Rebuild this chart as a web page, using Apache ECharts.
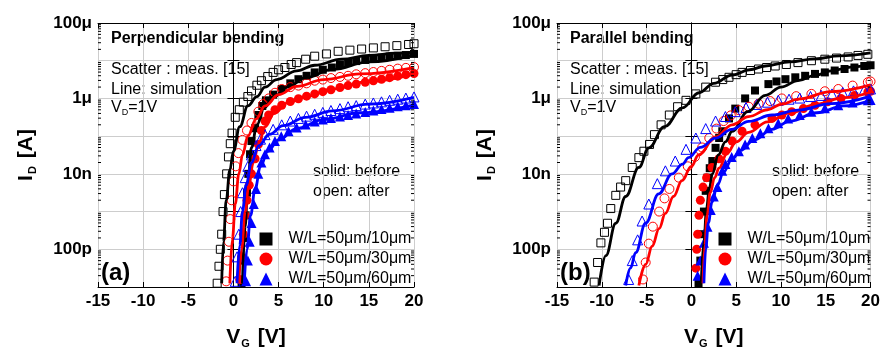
<!DOCTYPE html>
<html><head><meta charset="utf-8">
<script src="https://cdn.jsdelivr.net/npm/echarts@6/dist/echarts.min.js"></script>
<style>html,body{margin:0;padding:0;background:#fff}#c{width:883px;height:354px}</style>
</head><body><div id="c"></div><script>
// ---------- DATA: [V_G (V), log10(I_D / A)] ----------
// Panel (a) perpendicular bending
const perpBefore10 = [[0.9,-10.9],[1.05,-10.3],[1.2,-9.7],[1.35,-9.1],[1.5,-8.5],[1.65,-8.0],[1.84,-7.48],[2.0,-7.13],[2.4,-6.79],[2.76,-6.44],[3.2,-6.2],[3.6,-6.05],[4.4,-5.9],[5.35,-5.75],[6.3,-5.6],[7.2,-5.49],[8.1,-5.4],[9.0,-5.31],[9.9,-5.24],[10.9,-5.18],[11.8,-5.1],[12.7,-5.05],[13.6,-5.01],[14.6,-4.98],[15.5,-4.95],[16.4,-4.92],[17.3,-4.89],[18.2,-4.87],[19.1,-4.85],[20,-4.82]];
const perpAfter10 = [[-1.8,-10.9],[-1.6,-10.45],[-1.45,-10.0],[-1.3,-9.6],[-1.15,-9.0],[-1.0,-8.55],[-0.75,-8.0],[-0.55,-7.55],[-0.35,-7.2],[-0.15,-6.92],[0.2,-6.5],[0.65,-6.3],[1.1,-6.1],[1.6,-5.95],[2.0,-5.8],[2.6,-5.65],[3.1,-5.53],[3.8,-5.42],[4.4,-5.31],[5.0,-5.24],[5.7,-5.18],[6.4,-5.1],[7.0,-5.05],[8.0,-4.96],[9.0,-4.88],[10.3,-4.82],[11.6,-4.75],[12.9,-4.72],[14.2,-4.69],[15.5,-4.66],[16.8,-4.63],[18.1,-4.6],[19.4,-4.57],[20,-4.55]];
const perpBefore30 = [[0.7,-10.8],[0.9,-10.2],[1.1,-9.6],[1.3,-9.1],[1.5,-8.7],[1.75,-8.3],[2.0,-8.0],[2.4,-7.6],[2.76,-7.22],[3.1,-6.85],[3.5,-6.6],[3.9,-6.44],[4.6,-6.3],[5.35,-6.18],[6.3,-6.08],[7.2,-6.01],[8.1,-5.94],[9.0,-5.88],[9.9,-5.82],[10.8,-5.77],[11.8,-5.71],[12.7,-5.66],[13.6,-5.62],[14.6,-5.57],[15.5,-5.53],[16.4,-5.49],[17.3,-5.45],[18.2,-5.41],[19.1,-5.37],[20,-5.34]];
const perpAfter30 = [[-0.8,-10.85],[-0.65,-10.3],[-0.5,-9.8],[-0.35,-9.2],[-0.2,-8.7],[0.0,-8.2],[0.25,-7.8],[0.55,-7.45],[1.0,-7.1],[1.5,-6.85],[2.0,-6.65],[2.76,-6.35],[3.3,-6.15],[3.9,-6.0],[4.6,-5.85],[5.35,-5.75],[6.3,-5.7],[7.2,-5.66],[8.1,-5.6],[9.0,-5.53],[9.9,-5.5],[10.8,-5.46],[11.8,-5.43],[12.7,-5.4],[13.6,-5.36],[14.6,-5.33],[15.5,-5.3],[16.4,-5.27],[17.3,-5.24],[18.2,-5.21],[19.1,-5.19],[20,-5.17]];
const perpBefore60 = [[1.4,-10.85],[1.6,-10.3],[1.8,-9.8],[2.0,-9.3],[2.25,-8.8],[2.5,-8.4],[2.76,-8.0],[3.1,-7.7],[3.5,-7.48],[4.0,-7.3],[4.6,-7.13],[5.3,-7.0],[6.1,-6.87],[7.0,-6.77],[8.0,-6.69],[9.0,-6.61],[9.9,-6.56],[10.8,-6.52],[11.8,-6.48],[12.7,-6.44],[13.6,-6.4],[14.6,-6.36],[15.5,-6.32],[16.4,-6.28],[17.3,-6.25],[18.2,-6.21],[19.1,-6.18],[20,-6.15]];
const perpAfter60 = [[0.2,-10.85],[0.4,-10.2],[0.6,-9.6],[0.8,-9.0],[1.0,-8.5],[1.3,-8.1],[1.6,-7.8],[2.0,-7.5],[2.5,-7.25],[3.0,-7.08],[3.5,-6.96],[4.4,-6.82],[5.35,-6.7],[6.3,-6.6],[7.2,-6.53],[8.1,-6.47],[9.0,-6.42],[9.9,-6.37],[10.8,-6.32],[11.8,-6.27],[12.7,-6.22],[13.6,-6.19],[14.6,-6.15],[15.5,-6.12],[16.4,-6.09],[17.3,-6.05],[18.2,-6.02],[19.1,-5.99],[20,-5.96]];
const perpSimBefore10 = [[1.0,-10.9],[1.3,-9.4],[1.6,-8.2],[2.0,-7.3],[2.6,-6.7],[3.4,-6.25],[4.5,-5.95],[6,-5.7],[8,-5.45],[11,-5.23],[15,-5.03],[20,-4.85]];
const perpSimAfter10 = [[-1.3,-10.9],[-1.1,-9.8],[-0.8,-8.7],[-0.4,-7.9],[0,-7.4],[0.7,-6.75],[1.6,-6.2],[2.6,-5.95],[3.5,-5.7],[4.8,-5.5],[7,-5.27],[9,-5.12],[12,-4.96],[15,-4.86],[18,-4.8],[20,-4.77]];
const perpSimBefore30 = [[0.6,-10.9],[0.9,-10.0],[1.3,-9.0],[1.7,-8.3],[2.2,-7.7],[2.8,-7.2],[3.5,-6.75],[4.5,-6.4],[6,-6.12],[8,-5.95],[11,-5.75],[15,-5.55],[20,-5.35]];
const perpSimAfter30 = [[-0.4,-10.9],[-0.1,-9.7],[0.2,-8.8],[0.6,-8.0],[1.0,-7.5],[1.6,-7.0],[2.5,-6.55],[3.5,-6.2],[5,-5.9],[7,-5.68],[10,-5.5],[14,-5.35],[20,-5.18]];
const perpSimBefore60 = [[1.2,-10.9],[1.5,-10.0],[1.9,-9.1],[2.4,-8.4],[3.0,-7.8],[3.8,-7.4],[5,-7.1],[7,-6.8],[10,-6.56],[14,-6.38],[20,-6.17]];
const perpSimAfter60 = [[0.4,-10.9],[0.7,-9.9],[1.0,-9.0],[1.4,-8.3],[2.0,-7.7],[2.8,-7.25],[4,-6.95],[5.5,-6.72],[8,-6.5],[11,-6.33],[15,-6.15],[20,-5.97]];

// Panel (b) parallel bending
const parBefore10 = [[0.8,-10.9],[1.0,-10.3],[1.2,-9.6],[1.4,-9.0],[1.6,-8.45],[1.8,-8.1],[2.05,-7.85],[2.34,-7.66],[2.7,-7.31],[3.1,-7.05],[3.45,-6.87],[4.2,-6.53],[4.9,-6.27],[6.0,-6.0],[7.1,-5.79],[8.6,-5.62],[9.5,-5.55],[10.5,-5.49],[11.6,-5.44],[12.7,-5.4],[13.8,-5.35],[14.9,-5.31],[16.0,-5.26],[17.1,-5.22],[18.2,-5.18],[19.3,-5.14],[20,-5.12]];
const parAfter10 = [[-10.85,-10.87],[-10.47,-10.35],[-10.1,-9.83],[-9.7,-9.55],[-9.36,-9.31],[-9.0,-8.92],[-8.44,-8.57],[-7.9,-8.35],[-7.33,-8.18],[-6.6,-7.83],[-5.86,-7.57],[-5.3,-7.4],[-4.67,-7.22],[-4.12,-6.96],[-3.38,-6.7],[-2.46,-6.44],[-1.54,-6.22],[-0.6,-6.05],[0.5,-5.88],[1.6,-5.7],[2.7,-5.57],[3.5,-5.5],[4.2,-5.44],[5.0,-5.37],[5.66,-5.31],[6.6,-5.26],[7.5,-5.22],[8.4,-5.18],[9.36,-5.14],[10.6,-5.1],[11.9,-5.05],[13.4,-5.0],[14.9,-4.96],[16.2,-4.93],[17.5,-4.9],[18.6,-4.86],[19.7,-4.83]];
const parBefore30 = [[0.5,-10.5],[0.6,-10.0],[0.7,-9.6],[0.85,-9.1],[1.0,-8.7],[1.3,-8.35],[1.7,-8.1],[2.3,-7.83],[3.08,-7.6],[3.8,-7.4],[4.55,-7.13],[5.66,-6.87],[7.1,-6.7],[9.0,-6.53],[10.1,-6.44],[11.2,-6.35],[12.5,-6.27],[13.8,-6.18],[15.2,-6.09],[16.7,-6.0],[18.2,-5.92],[19.7,-5.83],[20,-5.81]];
const parAfter30 = [[-5.4,-10.8],[-5.1,-10.35],[-4.75,-9.85],[-4.3,-9.4],[-3.6,-9.0],[-3.0,-8.65],[-2.45,-8.4],[-1.4,-8.1],[-0.4,-7.8],[0.4,-7.55],[1.2,-7.3],[2.0,-7.05],[2.8,-6.8],[3.6,-6.6],[4.4,-6.45],[5.3,-6.31],[6.4,-6.22],[7.5,-6.14],[8.8,-6.07],[10.1,-6.0],[11.7,-5.94],[13.4,-5.88],[14.9,-5.81],[16.4,-5.75],[18.0,-5.66],[19.7,-5.57],[20,-5.55]];
const parBefore60 = [[0.7,-10.7],[1.0,-10.3],[1.4,-9.83],[1.8,-9.4],[2.16,-8.96],[2.5,-8.6],[2.9,-8.35],[3.45,-7.92],[3.8,-7.74],[4.5,-7.55],[5.3,-7.4],[6.0,-7.22],[6.8,-7.05],[7.7,-6.92],[8.6,-6.79],[9.7,-6.66],[10.8,-6.53],[12.1,-6.44],[13.4,-6.35],[14.9,-6.26],[16.4,-6.18],[18.0,-6.11],[19.7,-6.05],[20,-6.04]];
const parAfter60 = [[-7.0,-10.8],[-6.6,-10.3],[-6.0,-9.75],[-5.5,-9.25],[-4.75,-8.8],[-3.8,-8.26],[-2.9,-7.92],[-1.8,-7.66],[-0.6,-7.35],[0.5,-7.05],[1.6,-6.8],[2.7,-6.6],[3.8,-6.48],[4.9,-6.35],[6.1,-6.24],[7.3,-6.16],[8.5,-6.1],[9.7,-6.05],[10.9,-6.02],[12.1,-5.99],[13.3,-5.95],[14.5,-5.92],[15.7,-5.88],[16.9,-5.84],[18.1,-5.8],[19.3,-5.77],[20,-5.75]];
const parSimBefore10 = [[1.1,-10.9],[1.4,-9.8],[1.7,-8.9],[2.0,-8.4],[2.34,-8.0],[3.0,-7.5],[3.8,-7.15],[4.55,-6.87],[6.3,-6.35],[8.25,-5.92],[10,-5.7],[11.9,-5.53],[13.8,-5.39],[15.6,-5.27],[17.8,-5.17],[20,-5.09]];
const parSimAfter10 = [[-10.3,-10.96],[-9.55,-10.17],[-8.44,-9.31],[-7.33,-8.6],[-5.86,-7.83],[-4.75,-7.31],[-3,-6.75],[-1,-6.25],[0.86,-5.85],[2.5,-5.6],[4.55,-5.38],[6.5,-5.24],[8.25,-5.14],[11,-5.03],[13.8,-4.95],[16.5,-4.87],[20,-4.79]];
const parSimBefore30 = [[1.3,-10.9],[1.5,-9.9],[1.75,-9.1],[2.1,-8.5],[2.6,-8.1],[3.08,-7.85],[4.0,-7.45],[5.0,-7.15],[6.4,-6.9],[8.5,-6.62],[11,-6.38],[14,-6.15],[17,-5.98],[20,-5.83]];
const parSimAfter30 = [[-5.86,-10.96],[-5.1,-10.4],[-4.38,-9.92],[-3.6,-9.45],[-2.9,-9.05],[-2,-8.6],[-1.05,-8.18],[0.0,-7.8],[0.79,-7.5],[2.7,-7.02],[4.55,-6.7],[6.4,-6.48],[8.5,-6.3],[10.1,-6.15],[11.9,-6.02],[15.6,-5.82],[20,-5.64]];
const parSimBefore60 = [[1.4,-10.9],[1.6,-10.0],[1.9,-9.3],[2.3,-8.75],[2.9,-8.3],[3.6,-7.95],[4.5,-7.62],[5.5,-7.38],[7,-7.1],[9,-6.82],[11,-6.6],[14,-6.38],[17,-6.2],[20,-6.05]];
const parSimAfter60 = [[-7.33,-10.96],[-6.8,-10.5],[-6.22,-10.09],[-5.12,-9.31],[-3.64,-8.53],[-2.16,-8.0],[-0.98,-7.74],[-0.32,-7.57],[1.0,-7.3],[2.7,-7.05],[4.5,-6.82],[6.4,-6.61],[9,-6.44],[11.9,-6.31],[15.6,-6.14],[20,-5.94]];

// ---------- AXES / LABELS ----------
const xMin = -15, xMax = 20, xStep = 5;
const yMin = -11, yMax = -4;
const yTickValues = [-10, -8, -6, -4];
const yTickLabels = ['100p', '10n', '1μ', '100μ'];
const minorTickFactors = [2, 3, 4, 5, 6, 7, 8, 9];
const legendNames = ['W/L=50μm/10μm', 'W/L=50μm/30μm', 'W/L=50μm/60μm'];
const colors = ['#000000', '#ff0000', '#0000ff'];
const symbols = ['rect', 'circle', 'triangle'];
const symbolSizes = [8, 9, 10];
const panelTitles = ['Perpendicular bending', 'Parallel bending'];
const panelTags = ['(a)', '(b)'];

const FF = 'Liberation Sans, Arial, sans-serif';
const panels = [
  {before: [perpBefore10, perpBefore30, perpBefore60], after: [perpAfter10, perpAfter30, perpAfter60],
   simB: [perpSimBefore10, perpSimBefore30, perpSimBefore60], simA: [perpSimAfter10, perpSimAfter30, perpSimAfter60]},
  {before: [parBefore10, parBefore30, parBefore60], after: [parAfter10, parAfter30, parAfter60],
   simB: [parSimBefore10, parSimBefore30, parSimBefore60], simA: [parSimAfter10, parSimAfter30, parSimAfter60]}
];
const gridLefts = [98, 557];
const grids = gridLefts.map(l => ({left: l, top: 23, width: 316, height: 269, show: false}));

const minorVals = [];
for (let n = yMin; n < yMax; n++) minorTickFactors.forEach(k => minorVals.push([xMin, n + Math.log10(k)]));

const xAxes = [], yAxes = [], series = [], graphics = [], legends = [];
const axisLineStyle = {show: true, lineStyle: {color: '#000', width: 1}};
const nameRich = {
  m: {fontSize: 21, fontWeight: 'bold', fontFamily: FF, color: '#000', lineHeight: 24},
  s: {fontSize: 11, fontWeight: 'bold', fontFamily: FF, color: '#000', verticalAlign: 'bottom', lineHeight: 10, padding: [0, 2, 0, 1]}
};
gridLefts.forEach((gl, g) => {
  xAxes.push({
    gridIndex: g, type: 'value', min: xMin, max: xMax, interval: xStep, position: 'bottom',
    axisLine: axisLineStyle, axisTick: {show: true, inside: true, length: 5, lineStyle: {color: '#000'}},
    axisLabel: {color: '#000', fontSize: 17, fontWeight: 'bold', fontFamily: FF, margin: 6},
    splitLine: {show: true, lineStyle: {color: '#cdcdcd', width: 1}},
    name: '{m|V}{s|G}{m| [V]}', nameLocation: 'middle', nameGap: 38,
    nameTextStyle: {rich: nameRich}
  });
  xAxes.push({
    gridIndex: g, type: 'value', min: xMin, max: xMax, interval: xStep, position: 'top',
    axisLine: axisLineStyle, axisTick: {show: true, inside: true, length: 5, lineStyle: {color: '#000'}},
    axisLabel: {show: false}, splitLine: {show: false}
  });
  yAxes.push({
    gridIndex: g, type: 'value', min: yMin, max: yMax, interval: 1, position: 'left',
    axisLine: axisLineStyle, axisTick: {show: true, inside: true, length: 6, lineStyle: {color: '#000'}},
    axisLabel: {color: '#000', fontSize: 17, fontWeight: 'bold', fontFamily: FF, margin: 6,
      formatter: v => { const i = yTickValues.indexOf(Math.round(v)); return i >= 0 ? yTickLabels[i] : ''; }},
    splitLine: {show: true, lineStyle: {color: '#cdcdcd', width: 1}},
    name: '{m|I}{s|D}{m| [A]}', nameLocation: 'middle', nameRotate: 90, nameGap: 60,
    nameTextStyle: {rich: nameRich}
  });
  yAxes.push({
    gridIndex: g, type: 'value', min: yMin, max: yMax, interval: 1, position: 'right',
    axisLine: axisLineStyle, axisTick: {show: true, inside: true, length: 6, lineStyle: {color: '#000'}},
    axisLabel: {show: false}, splitLine: {show: false}
  });

  const xi = g * 2, yi = g * 2;
  const P = panels[g];
  // minor log ticks (left and right)
  series.push({
    type: 'custom', xAxisIndex: xi, yAxisIndex: yi, data: minorVals, silent: true, z: 5,
    renderItem: (params, api) => {
      const cs = params.coordSys;
      const y = api.coord([api.value(0), api.value(1)])[1];
      return {type: 'group', children: [
        {type: 'line', shape: {x1: cs.x, y1: y, x2: cs.x + 3, y2: y}, style: {stroke: '#000', lineWidth: 1}},
        {type: 'line', shape: {x1: cs.x + cs.width - 3, y1: y, x2: cs.x + cs.width, y2: y}, style: {stroke: '#000', lineWidth: 1}}
      ]};
    }
  });
  for (let k = 0; k < 3; k++) {
    series.push({
      type: 'scatter', name: legendNames[k], xAxisIndex: xi, yAxisIndex: yi, data: P.before[k],
      symbol: symbols[k], symbolSize: symbolSizes[k], itemStyle: {color: colors[k], opacity: 1}, z: 2
    });
    series.push({
      type: 'scatter', name: 'after' + k, xAxisIndex: xi, yAxisIndex: yi, data: P.after[k],
      symbol: symbols[k], symbolSize: symbolSizes[k],
      itemStyle: {color: 'rgba(0,0,0,0)', borderColor: colors[k], borderWidth: 1, opacity: 1}, z: 2
    });
  }
  for (let k = 0; k < 3; k++) {
    [P.simB[k], P.simA[k]].forEach((d, j) => series.push({
      type: 'line', name: 'sim' + k + j, xAxisIndex: xi, yAxisIndex: yi, data: d,
      showSymbol: false, smooth: 0.4, smoothMonotone: 'x',
      lineStyle: {color: colors[k], width: 2.8}, itemStyle: {color: colors[k]}, z: 3
    }));
  }

  const dx = g * 459;
  const txt = (x, y, text, font, extra) => graphics.push(Object.assign({
    type: 'text', x: x + dx, y: y, style: Object.assign({text: text, font: font, fill: '#000', textVerticalAlign: 'middle'}, extra || {})
  }));
  txt(111, 39, panelTitles[g], 'bold 16px ' + FF);
  txt(111, 70, 'Scatter : meas. [15]', '16px ' + FF);
  txt(111, 90, 'Line: simulation', '16px ' + FF);
  txt(111, 108, '{n|V}{s|D}{n|=1V}', '16px ' + FF, {rich: {
    n: {fontSize: 16, fontFamily: FF, lineHeight: 18},
    s: {fontSize: 9, fontFamily: FF, verticalAlign: 'bottom', lineHeight: 8}
  }});
  txt(313, 172, 'solid: before', '16px ' + FF);
  txt(313, 192, 'open: after', '16px ' + FF);
  txt(101, 273, panelTags[g], 'bold 24px ' + FF);

  legends.push({
    left: 259.5 + dx, top: 231, orient: 'vertical', itemWidth: 13, itemHeight: 13, itemGap: 4, padding: 0,
    selectedMode: false, textStyle: {fontSize: 16, fontFamily: FF, color: '#000', padding: [0, 0, 0, 11]},
    data: legendNames.map((n, k) => ({name: n, icon: symbols[k]}))
  });
});

const chart = echarts.init(document.getElementById('c'), null, {renderer: 'canvas'});
chart.setOption({
  animation: false, backgroundColor: '#fff',
  grid: grids, xAxis: xAxes, yAxis: yAxes, series: series, legend: legends, graphic: graphics
});
</script></body></html>
